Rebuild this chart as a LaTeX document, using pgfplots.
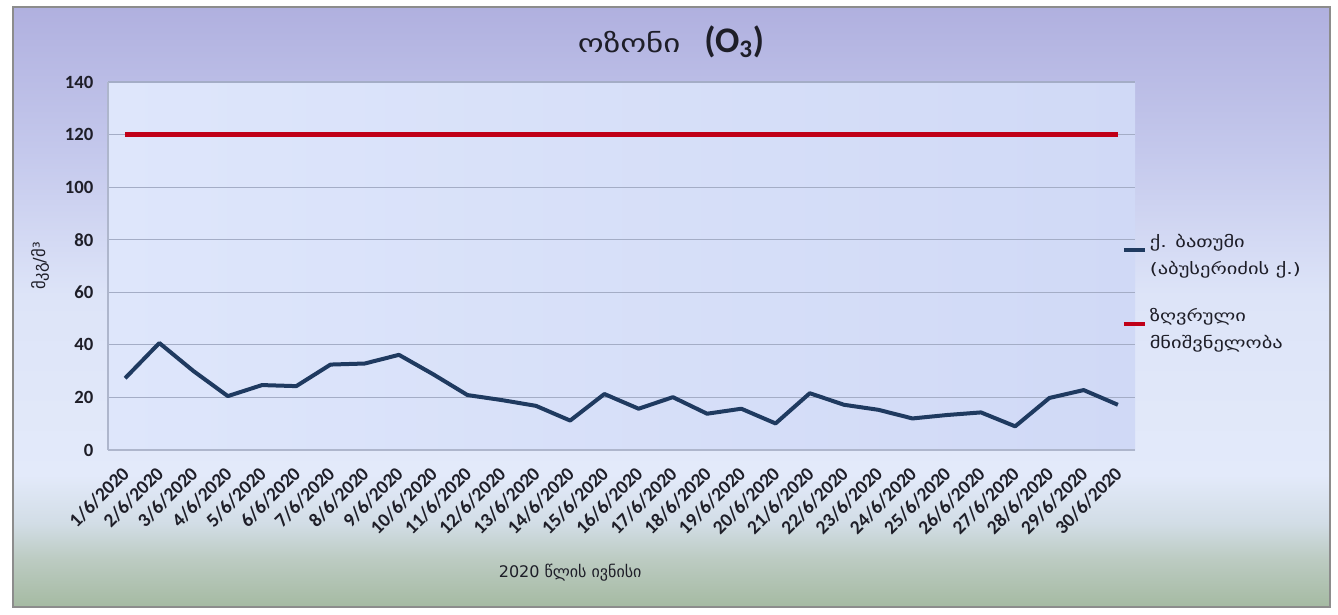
\documentclass[border=0pt]{standalone}
\usepackage{pgfplots}
\pgfplotsset{compat=1.18}
\usepackage{fontspec}
\setmainfont{Carlito}
\newfontfamily\geo{DejaVu Sans}
\newfontfamily\geow{DejaVu Sans}[FakeStretch=1.3]

\definecolor{bgTop}{HTML}{B0B0DF}
\definecolor{bgUpper}{HTML}{C4C8EC}
\definecolor{bgMid}{HTML}{DDE4F8}
\definecolor{bgLow}{HTML}{E3EAFA}
\definecolor{bgGreen1}{HTML}{D2DDE6}
\definecolor{bgGreen2}{HTML}{BCCBC2}
\definecolor{bgBottom}{HTML}{A5BAA2}
\definecolor{plotL}{HTML}{DEE6FB}
\definecolor{plotR}{HTML}{D0D9F6}
\definecolor{gridc}{HTML}{A4ADC6}
\definecolor{axisc}{HTML}{AEB6CC}
\definecolor{ozone}{HTML}{1F3A60}
\definecolor{limitc}{HTML}{C00018}
\definecolor{framec}{HTML}{8C8C8C}
\definecolor{txt}{HTML}{1E1E28}

\pgfdeclareverticalshading{chartbg}{100bp}{%
  color(0bp)=(bgBottom); color(25bp)=(bgBottom); color(29bp)=(bgGreen2);
  color(32bp)=(bgGreen1); color(36bp)=(bgLow); color(51bp)=(bgMid);
  color(63bp)=(bgUpper); color(75bp)=(bgTop); color(100bp)=(bgTop)}

% daily O3 means, June 2020
\pgfplotstableread{
x y
0 27.3
1 40.7
2 30.0
3 20.5
4 24.7
5 24.3
6 32.5
7 32.9
8 36.2
9 28.8
10 20.9
11 19.0
12 16.8
13 11.2
14 21.3
15 15.7
16 20.1
17 13.8
18 15.7
19 10.1
20 21.6
21 17.2
22 15.3
23 12.0
24 13.3
25 14.3
26 9.0
27 19.8
28 22.8
29 17.2
}\ozonedata

\pgfplotstableread{
x y
0 120
29 120
}\limitdata

\begin{document}
\begin{tikzpicture}[x=0.75pt,y=0.75pt]
\useasboundingbox (0,0) rectangle (1338,614);
\fill[white] (0,0) rectangle (1338,614);
\shade[shading=chartbg] (13,7) rectangle (1330,607);
\draw[framec, line width=2pt] (13,7) rectangle (1330,607);

\node[text=txt] at (671,572)
  {{\geow\fontsize{19}{22}\selectfont ოზონი}\hspace{18pt}{\fontsize{27}{30}\selectfont\bfseries (O\textsubscript{3})}};

\begin{axis}[
  at={(81pt,123pt)}, anchor=south west,
  scale only axis, width=770.25pt, height=276pt,
  xmin=-0.5, xmax=29.5, ymin=0, ymax=140,
  ytick={0,20,...,140},
  xtick={0,...,29},
  xticklabels={1/6/2020,2/6/2020,3/6/2020,4/6/2020,5/6/2020,6/6/2020,7/6/2020,8/6/2020,9/6/2020,10/6/2020,11/6/2020,12/6/2020,13/6/2020,14/6/2020,15/6/2020,16/6/2020,17/6/2020,18/6/2020,19/6/2020,20/6/2020,21/6/2020,22/6/2020,23/6/2020,24/6/2020,25/6/2020,26/6/2020,27/6/2020,28/6/2020,29/6/2020,30/6/2020},
  /pgf/number format/assume math mode=true,
  major tick length=0pt,
  axis x line*=bottom, axis y line*=left,
  axis line style={-, draw=axisc, line width=0.8pt},
  ymajorgrids, grid style={draw=gridc, line width=0.8pt},
  axis background/.style={left color=plotL, right color=plotR},
  ticklabel style={font=\fontsize{14}{16}\selectfont\bfseries, text=txt},
  yticklabel style={xshift=-7.5pt},
  xticklabel style={xshift=3pt, yshift=-13pt, rotate=45, anchor=east, font=\fontsize{14.5}{16}\selectfont\bfseries},
  xlabel={\geo 2020 წლის ივნისი},
  xlabel style={font=\fontsize{12}{14}\selectfont, text=txt, at={(axis description cs:0.45,-0.334)}, anchor=center},
  ylabel={\geo მკგ/მ³},
  ylabel style={font=\fontsize{12.5}{14}\selectfont, text=txt, at={(axis description cs:-0.066,0.5)}, anchor=center, rotate=0},
  legend style={at={(axis description cs:0.983,0.60)}, anchor=north west,
    draw=none, fill=none, font=\geow\fontsize{11.8}{20}\selectfont,
    text=txt, row sep=20pt,
    cells={anchor=west, align=left}},
  legend image code/.code={\draw[#1, line width=3pt] (0pt,4pt) -- (16pt,4pt);},
  clip=false,
]
\addplot[ozone, line width=3pt, line join=round] table[x=x,y=y]{\ozonedata};
\addlegendentry{ქ. ბათუმი\\(აბუსერიძის ქ.)}
\addplot[limitc, line width=4pt] table[x=x,y=y]{\limitdata};
\addlegendentry{ზღვრული\\მნიშვნელობა}
\end{axis}
\end{tikzpicture}
\end{document}
